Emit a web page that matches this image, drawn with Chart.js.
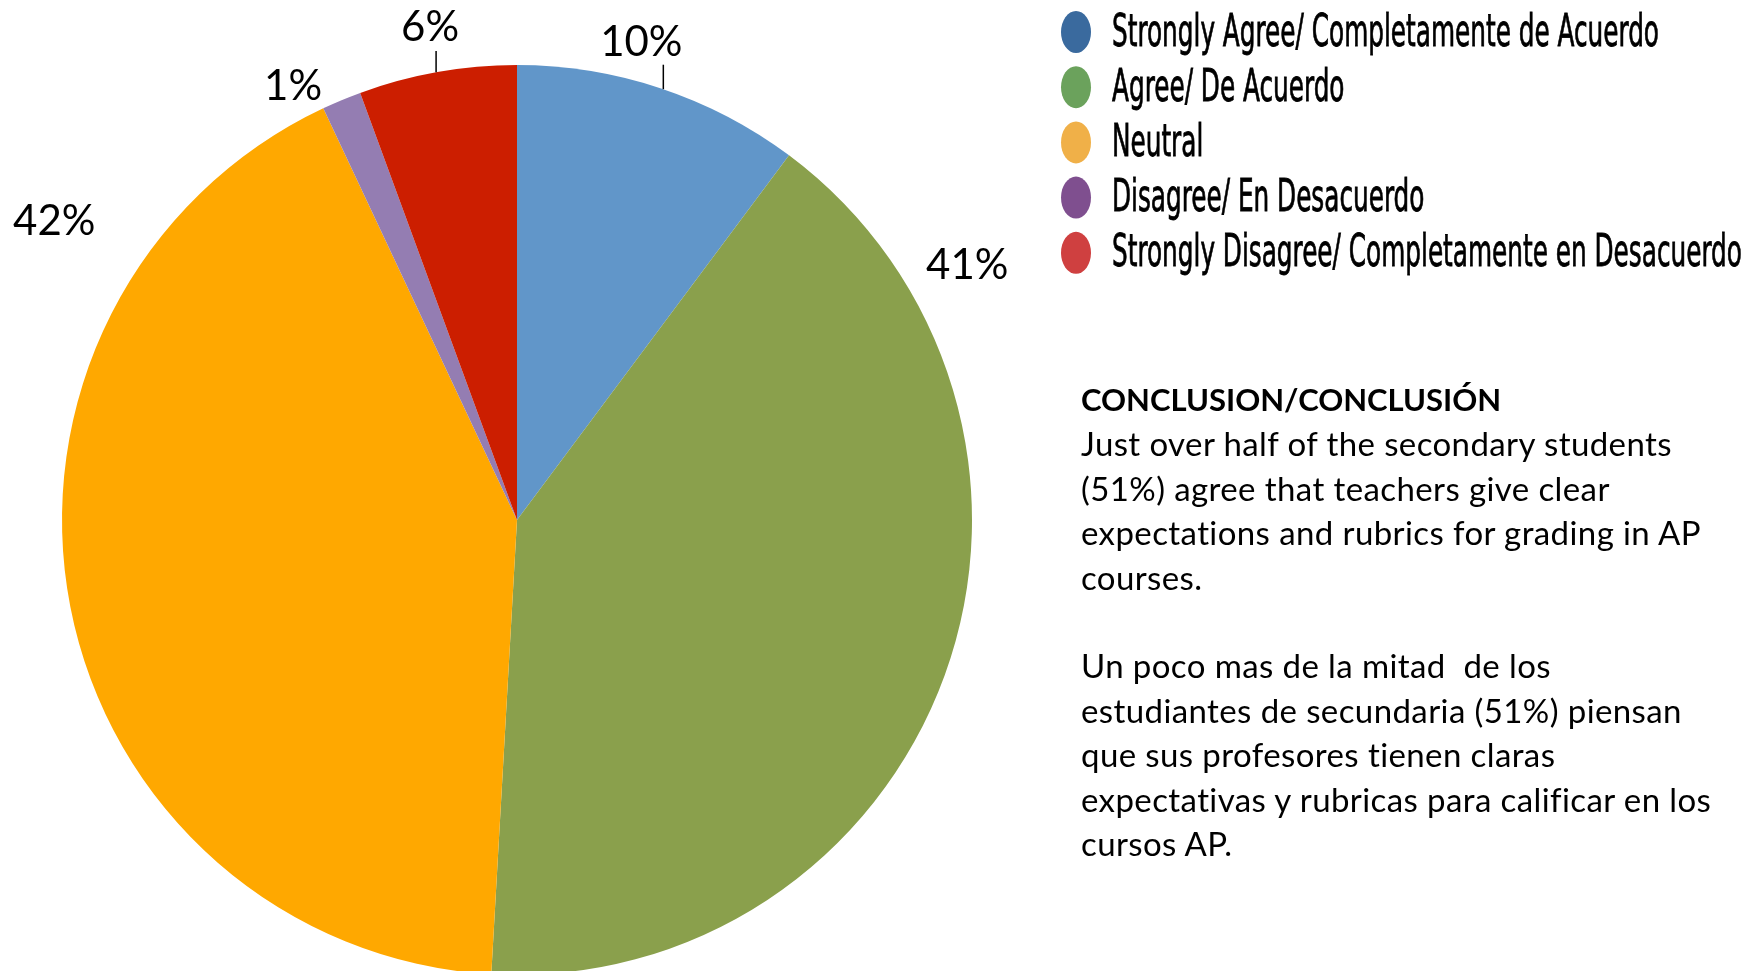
<!DOCTYPE html>
<html>
<head>
  <meta charset="UTF-8">
  <title>AP rubrics survey</title>
  <script src="https://cdn.jsdelivr.net/npm/chart.js"></script>
  <style>
    html, body { margin: 0; padding: 0; background: #fff; overflow: hidden; }
    #wrap { position: relative; width: 1760px; height: 971px; overflow: hidden; }
    #pie { position: absolute; left: 0; top: 0; }
    #conclusion {
      position: absolute; left: 1081px; top: 376px; width: 680px;
      font-family: Lato, "Open Sans", sans-serif; font-size: 33px; letter-spacing: 0.4px;
      line-height: 44.4px; color: #000;
    }
    #conclusion b { font-weight: bold; font-size: 31px; letter-spacing: 0; }
  </style>
</head>
<body>
  <div id="wrap">
    <canvas id="pie" width="1760" height="980"></canvas>
    <div id="conclusion">
      <b>CONCLUSION/CONCLUSIÓN</b><br>
      Just over half of the secondary students<br>
      (51%) agree that teachers give clear<br>
      expectations and rubrics for grading in AP<br>
      courses.<br>
      <br>
      Un poco mas de la mitad &nbsp;de los<br>
      estudiantes de secundaria (51%) piensan<br>
      que sus profesores tienen claras<br>
      expectativas y rubricas para calificar en los<br>
      cursos AP.
    </div>
  </div>

  <script>
    const categories = [
      "Strongly Agree/ Completamente de Acuerdo",
      "Agree/ De Acuerdo",
      "Neutral",
      "Disagree/ En Desacuerdo",
      "Strongly Disagree/ Completamente en Desacuerdo"
    ];
    const shares = [10.2, 40.7, 42.1, 1.4, 5.6];
    const pctLabels = ["10%", "41%", "42%", "1%", "6%"];

    const sliceColors = ["#6196C9", "#8AA04C", "#FFA800", "#947DB2", "#CC1E00"];
    const legendColors = ["#3A6A9E", "#6BA25C", "#F0B048", "#7F4F8F", "#CF4040"];

    // where Excel left the labels: angle from 12 o'clock (deg) and distance as a fraction of radius
    const labelSpots = [
      { a: 14.6, f: 1.084, leader: { dx: 22, dy: 22 } },
      { a: 60.5, f: 1.137 },
      { a: -57.2, f: 1.21 },
      { a: -27.3, f: 1.073 },
      { a: -10, f: 1.10, leader: { dx: 6, dy: 24 } }
    ];

    const pctLabelPlugin = {
      id: "pctLabels",
      afterDatasetsDraw(chart) {
        const ctx = chart.ctx;
        const arc = chart.getDatasetMeta(0).data[0];
        const cx = arc.x, cy = arc.y, r = arc.outerRadius;
        ctx.save();
        ctx.font = "42px Lato, 'Open Sans', sans-serif";
        ctx.fillStyle = "#000";
        ctx.textAlign = "center";
        ctx.textBaseline = "middle";
        pctLabels.forEach((txt, i) => {
          const s = labelSpots[i];
          const rad = s.a * Math.PI / 180;
          const x = cx + r * s.f * Math.sin(rad);
          const y = cy - r * s.f * Math.cos(rad);
          ctx.fillText(txt, x, y);
          if (s.leader) {
            const lx = x + s.leader.dx;
            const edgeY = cy - Math.sqrt(r * r - (lx - cx) * (lx - cx));
            ctx.strokeStyle = "#000";
            ctx.lineWidth = 1.5;
            ctx.beginPath();
            ctx.moveTo(lx, y + s.leader.dy);
            ctx.lineTo(lx, edgeY);
            ctx.stroke();
          }
        });
        ctx.restore();
      }
    };

    const legendPlugin = {
      id: "ovalLegend",
      afterDraw(chart) {
        const ctx = chart.ctx;
        const x0 = 1076, y0 = 32, step = 55.2, textX = 1112;
        ctx.save();
        ctx.font = "45px 'Liberation Sans Narrow', 'DejaVu Sans Condensed', 'Liberation Sans', sans-serif";
        const squeeze = 547 / ctx.measureText(categories[0]).width;
        categories.forEach((name, i) => {
          const y = y0 + i * step;
          ctx.fillStyle = legendColors[i];
          ctx.beginPath();
          ctx.ellipse(x0, y, 15, 21, 0, 0, Math.PI * 2);
          ctx.fill();
          ctx.save();
          ctx.translate(textX, y + 2);
          ctx.scale(squeeze, 1);
          ctx.fillStyle = "#000";
          ctx.strokeStyle = "#000";
          ctx.lineWidth = 0.8;
          ctx.textAlign = "left";
          ctx.textBaseline = "middle";
          ctx.fillText(name, 0, 0);
          ctx.strokeText(name, 0, 0);
          ctx.restore();
        });
        ctx.restore();
      }
    };

    new Chart(document.getElementById("pie"), {
      type: "pie",
      data: {
        labels: categories,
        datasets: [{
          data: shares,
          backgroundColor: sliceColors,
          borderWidth: 0,
          hoverOffset: 0,
          offset: 0
        }]
      },
      options: {
        responsive: false,
        animation: false,
        devicePixelRatio: 1,
        layout: { padding: { left: 62, top: 65, right: 788, bottom: 5 } },
        plugins: {
          legend: { display: false },
          tooltip: { enabled: false }
        }
      },
      plugins: [pctLabelPlugin, legendPlugin]
    });
  </script>
</body>
</html>
